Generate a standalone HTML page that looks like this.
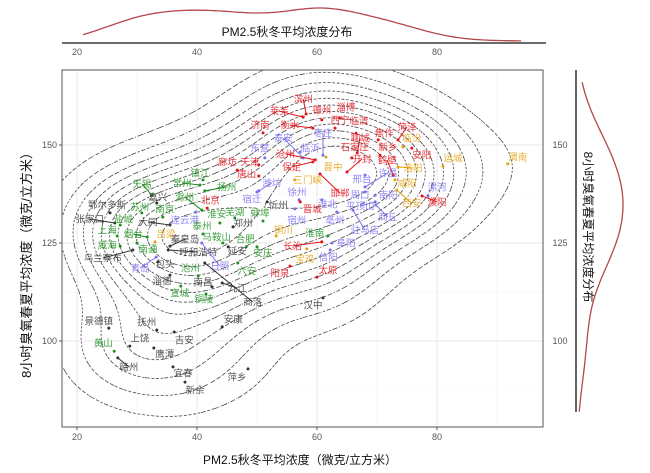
<!DOCTYPE html>
<html><head><meta charset="utf-8">
<style>
html,body{margin:0;padding:0;background:#fff;}
svg{display:block;font-family:"Liberation Sans","Noto Sans CJK SC",sans-serif;}
</style></head>
<body>
<svg id="chart" width="650" height="473" viewBox="0 0 650 473">
  <g id="grid"></g>
  <g id="contours"></g>
  <g id="marks"></g>
  <rect x="62" y="70" width="481" height="357" fill="none" stroke="#555" stroke-width="1"/>
  <g id="axes"></g>
  <text x="300" y="464" text-anchor="middle" font-size="12" fill="#111">PM2.5秋冬平均浓度（微克/立方米）</text>
  <text transform="translate(31,262) rotate(-90)" text-anchor="middle" font-size="13" fill="#111">8小时臭氧春夏平均浓度（微克/立方米）</text>
  <text x="287" y="36" text-anchor="middle" font-size="12" fill="#111">PM2.5秋冬平均浓度分布</text>
  <text transform="translate(584,227) rotate(90)" text-anchor="middle" font-size="12" fill="#111">8小时臭氧春夏平均浓度分布</text>
  <line x1="62" y1="43" x2="546" y2="43" stroke="#111" stroke-width="1.3"/>
  <line x1="576" y1="70" x2="576" y2="412" stroke="#111" stroke-width="1.3"/>
  <g id="marg"></g>
</svg>
<script>
const cities=["无锡","常州","镇江","扬州","鄂尔多斯","苏州","嘉兴","滁州","北京","南京","张家口","盐城","大同","连云港","淮安","芜湖","蚌埠","郑州","泰州","上海","烟台","吕梁","马鞍山","合肥","秦皇岛","威海","南通","呼和浩特","延安","日照","安庆","乌兰察布","青岛","包头","池州","六安","淄德","南昌","九江","商洛","宣城","铜陵","景德镇","抚州","上饶","吉安","黄山","鹰潭","赣州","宜春","新余","安康","萍乡","汉中","莱芜","滨州","德州","淄博","济南","衡水","西宁","临清","聊城","焦作","菏泽","枣庄","泰安","东营","临沂","石家庄","新乡","临汾","安阳","沧州","保定","晋中","开封","鹤壁","洛阳","运城","渭南","廊坊","天津","唐山","潍坊","三门峡","邢台","许昌","咸阳","漯河","濮阳","徐州","邯郸","周口","南阳","西安","晋城","淮北","平顶山","商丘","忻州","宿州","亳州","宿迁","驻马店","铜川","淮南","阜阳","长治","宝鸡","信阳","阳泉","太原"];
const pm25=[32.5,40.5,41.0,41.3,25.5,30.8,33.3,40.8,41.7,34.3,26.3,27.2,35.5,39.8,43.8,46.3,51.0,46.0,41.0,26.7,31.7,33.0,44.3,48.2,35.5,27.2,30.0,35.2,45.2,40.8,50.0,29.3,33.2,33.5,40.2,46.8,35.5,42.5,44.2,41.3,37.3,41.5,25.3,33.3,28.8,36.2,26.2,32.8,26.8,36.0,38.0,44.2,48.5,61.0,57.7,58.2,60.8,63.8,51.0,59.3,63.0,66.5,66.7,70.2,73.5,61.0,57.7,51.3,57.2,65.8,70.5,74.3,75.8,59.7,59.3,61.5,65.0,72.7,73.5,81.0,91.8,46.7,50.3,50.3,50.3,56.3,68.0,68.0,73.0,78.5,77.5,57.0,60.5,68.0,69.7,73.3,57.2,60.8,69.7,69.8,51.7,56.3,63.3,50.0,66.0,53.2,61.8,62.5,60.8,58.3,62.2,55.5,60.0];
const o3=[137.2,139.8,141.1,138.3,132.7,132.7,135.2,133.4,133.9,131.6,130.1,129.6,129.6,132.9,130.1,131.4,130.6,129.1,127.3,126.8,126.5,125.3,125.0,124.0,124.2,124.2,125.0,123.2,124.0,125.0,124.0,123.2,121.4,120.2,116.6,119.9,116.8,113.8,114.8,119.9,114.0,112.0,103.3,102.8,98.7,102.3,97.4,98.2,95.7,93.4,89.5,103.6,92.9,111.0,157.1,157.9,156.4,156.9,153.1,154.3,154.3,153.0,148.0,151.3,151.3,147.4,146.7,146.7,148.2,146.7,147.4,149.5,149.2,146.2,145.7,146.9,143.1,142.3,144.4,144.6,145.2,143.6,144.9,142.1,138.3,141.1,142.3,139.3,141.1,137.0,137.0,136.0,142.6,138.0,137.2,138.5,135.5,136.0,135.5,134.7,135.5,133.7,132.9,138.0,133.4,126.8,126.8,125.0,125.3,123.5,123.2,119.1,116.3];
const groups=["g","g","g","g","k","g","k","g","r","g","k","g","k","b","g","g","g","k","g","g","g","o","g","g","k","g","g","k","k","b","g","k","b","k","g","g","k","k","k","k","g","g","k","k","k","k","g","k","k","k","k","k","k","k","r","r","r","r","r","r","r","r","r","r","r","b","b","b","b","r","r","o","r","r","r","o","r","r","o","o","o","r","r","r","b","o","b","b","o","b","r","b","r","b","b","o","r","b","b","b","k","b","b","b","b","o","g","b","r","o","b","r","r"];
const labelDx=[-10,-18,-3,22,-3,-2,1,-17,3,2,-25,3,-22,-11,-3,0,-3,10,-1,-10,-14,11,-6,-1,15,-13,11,30,9,18,6,-30,-16,7,-8,9,-8,-9,15,48,-1,-2,-10,-10,10,10,-11,11,11,10,10,11,-11,-10,-24,-3,0,6,-3,-23,5,3,3,6,9,0,-20,-5,10,3,8,9,10,-30,-21,7,15,-6,15,10,10,-10,-9,-12,13,13,-3,23,12,9,15,-2,20,-5,13,15,12,6,-15,12,11,2,-2,-5,12,7,-13,14,-29,-2,-2,-10,11];
const labelDy=[-11,-2,-7,-4,-8,-6,-6,-13,-8,-8,-4,-6,-3,8,-9,-6,-8,-4,-8,-6,-3,-8,-6,-8,-7,-1,6,2,4,23,6,8,11,2,-8,8,6,-5,5,39,7,5,-7,-8,-8,8,-8,6,9,6,8,-8,8,7,-6,-15,-10,-11,-8,-3,-8,-12,-15,-7,-13,-22,-20,-10,-4,-11,-8,-9,7,-6,5,10,-13,-15,1,-8,-7,-8,-3,-2,-8,0,4,-14,3,-9,6,-8,19,3,0,13,7,4,4,12,3,11,8,7,20,-6,-3,0,4,10,7,7,-7];
const colors={g:"#1f8f1f",k:"#333333",r:"#e3131b",b:"#7b6ff0",o:"#e6a10f"};

const X=v=>77+(v-20)*6, Y=v=>145-(v-150)*3.92;
const NS="http://www.w3.org/2000/svg";
function mk(tag,attrs,parent){const e=document.createElementNS(NS,tag);for(const k in attrs)e.setAttribute(k,attrs[k]);parent.appendChild(e);return e;}

const grid=document.getElementById('grid');
[30,50,70,90].forEach(v=>{const l=mk('line',{x1:X(v),x2:X(v),y1:70,y2:427,stroke:'#f3f3f3','stroke-width':0.6},grid);});
[87.5,112.5,137.5,162.5].forEach(v=>{const l=mk('line',{x1:62,x2:543,y1:Y(v),y2:Y(v),stroke:'#f3f3f3','stroke-width':0.6},grid);});
const xt=[20,40,60,80], yt=[100,125,150];
const axes=document.getElementById('axes');
xt.forEach(v=>{
  const l=mk('line',{x1:X(v),x2:X(v),y1:70,y2:427,stroke:'#e8e8e8','stroke-width':1},grid);
  
  mk('line',{x1:X(v),x2:X(v),y1:427,y2:430,stroke:'#555'},axes);
  const t=mk('text',{x:X(v),y:440,'text-anchor':'middle','font-size':9,fill:'#555'},axes);t.textContent=v;
  
  const t2=mk('text',{x:X(v),y:55,'text-anchor':'middle','font-size':9,fill:'#555'},axes);t2.textContent=v;
  
});
yt.forEach(v=>{
  const l=mk('line',{x1:62,x2:543,y1:Y(v),y2:Y(v),stroke:'#e8e8e8','stroke-width':1},grid);
  
  mk('line',{x1:59,x2:62,y1:Y(v),y2:Y(v),stroke:'#555'},axes);
  const t=mk('text',{x:57,y:Y(v)+3,'text-anchor':'end','font-size':9,fill:'#555'},axes);t.textContent=v;
  
  const t2=mk('text',{x:560,y:Y(v)+3,'text-anchor':'middle','font-size':9,fill:'#555'},axes);t2.textContent=v;
  
});

const hx=7.5, hy=9.5;
function dens(a,b){let s=0;for(let i=0;i<pm25.length;i++){const u=(a-pm25[i])/hx,w=(b-o3[i])/hy;s+=Math.exp(-0.5*(u*u+w*w));}return s;}
const gX0=15,gX1=100,gY0=78,gY1=170,NX=110,NY=95;
const G=[];let mx=0;
for(let j=0;j<=NY;j++){G[j]=[];for(let i=0;i<=NX;i++){const v=dens(gX0+(gX1-gX0)*i/NX,gY0+(gY1-gY0)*j/NY);G[j][i]=v;if(v>mx)mx=v;}}
const levels=[];for(let k=1;k<=12;k++)levels.push(mx*k/13.5);
let pathD="";
const gx=i=>X(gX0+(gX1-gX0)*i/NX), gy=j=>Y(gY0+(gY1-gY0)*j/NY);
levels.forEach(L=>{
  for(let j=0;j<NY;j++)for(let i=0;i<NX;i++){
    const a=G[j][i],b=G[j][i+1],c=G[j+1][i+1],e=G[j+1][i];
    const pts=[];
    const edge=(v1,v2,p1,p2)=>{if((v1<L)!==(v2<L)){const t=(L-v1)/(v2-v1);pts.push([p1[0]+(p2[0]-p1[0])*t,p1[1]+(p2[1]-p1[1])*t]);}};
    const P00=[gx(i),gy(j)],P10=[gx(i+1),gy(j)],P11=[gx(i+1),gy(j+1)],P01=[gx(i),gy(j+1)];
    edge(a,b,P00,P10);edge(b,c,P10,P11);edge(c,e,P11,P01);edge(e,a,P01,P00);
    for(let k=0;k+1<pts.length;k+=2){
      const p=pts[k],q=pts[k+1];
      if(Math.min(p[0],q[0])<62||Math.max(p[0],q[0])>543||Math.min(p[1],q[1])<70||Math.max(p[1],q[1])>427)continue;
      pathD+="M"+p[0].toFixed(1)+" "+p[1].toFixed(1)+"L"+q[0].toFixed(1)+" "+q[1].toFixed(1);
    }
  }
});
const cp=mk('path',{d:pathD,fill:'none',stroke:'#444','stroke-width':0.8,'stroke-dasharray':'2.2,1.8'},document.getElementById('contours'));


const marks=document.getElementById('marks');
cities.forEach((c,i)=>{
  const px=X(pm25[i]),py=Y(o3[i]),col=colors[groups[i]]||'#333';
  const dx=labelDx[i]||0, dy=labelDy[i]||0;
  const lx=px+dx,ly=py+dy;
  if(Math.hypot(dx,dy)>14){
    const ln=mk('line',{x1:px,y1:py,x2:lx,y2:ly,stroke:col,'stroke-width':1},marks);
    
  }
  const pt=mk('circle',{cx:px,cy:py,r:1.5,fill:col},marks);
  
  const t=mk('text',{x:lx,y:ly+3.5,'text-anchor':'middle','font-size':9.5,fill:col,'fill-opacity':0.85},marks);
  t.textContent=c;
  
});

const marg=document.getElementById('marg');
function kde1(arr,v,h){let s=0;arr.forEach(a=>{const u=(v-a)/h;s+=Math.exp(-0.5*u*u);});return s;}
const topCurve=[];let tm=0;
for(let v=21;v<=94;v+=0.5){const k=kde1(pm25,v,5.5);topCurve.push([v,k]);if(k>tm)tm=k;}
const tp=mk('path',{d:topCurve.map((p,i)=>(i?'L':'M')+X(p[0]).toFixed(1)+' '+(42-34*p[1]/tm).toFixed(1)).join(''),fill:'none',stroke:'#b5474b','stroke-width':1.3},marg);

const rightCurve=[];let rm=0;
for(let v=82;v<=166;v+=0.5){const k=kde1(o3,v,9);rightCurve.push([v,k]);if(k>rm)rm=k;}
const rp=mk('path',{d:rightCurve.map((p,i)=>(i?'L':'M')+(577+46*p[1]/rm).toFixed(1)+' '+Y(p[0]).toFixed(1)).join(''),fill:'none',stroke:'#b5474b','stroke-width':1.3},marg);

</script>
</body></html>
